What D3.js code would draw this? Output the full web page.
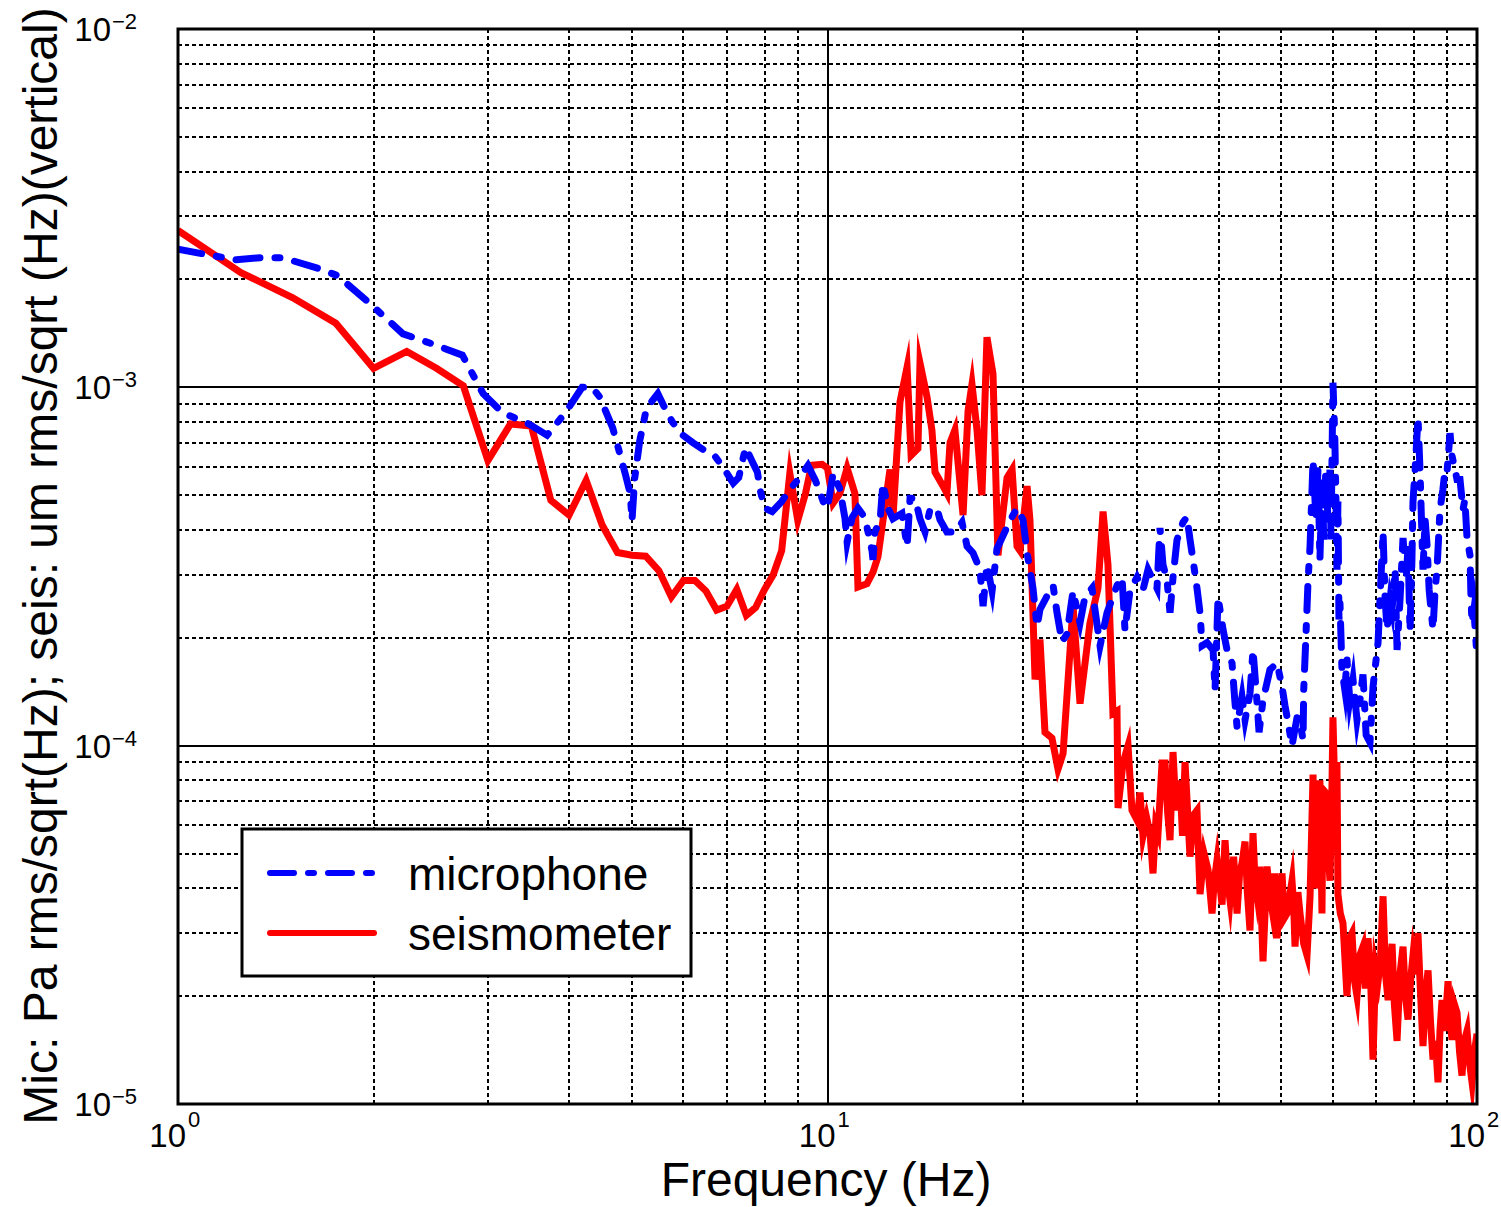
<!DOCTYPE html>
<html><head><meta charset="utf-8">
<script src="https://cdn.jsdelivr.net/npm/d3@7"></script>
<style>
body{margin:0;background:#fff}
text{font-family:"Liberation Sans",Arial,Helvetica,sans-serif;fill:#000}
</style>
</head><body>
<svg id="chart" width="1501" height="1207"></svg>
<script>
// ---------------- data ----------------
const micFreq = [1.0,1.09,1.23,1.34,1.45,1.64,1.76,1.97,2.22,2.44,2.74,2.95,3.16,3.47,3.7,3.95,4.19,4.34,4.46,4.67,4.76,4.88,4.97,5.0,5.05,5.14,5.24,5.33,5.48,5.61,5.77,5.99,6.21,6.52,6.7,6.9,7.16,7.3,7.48,7.66,7.8,7.87,8.0,8.22,8.5,8.76,9.06,9.33,9.58,9.85,10.0,10.2,10.45,10.64,10.72,10.91,11.14,11.42,11.71,11.75,11.83,12.05,12.17,12.39,12.61,13.02,13.26,13.4,13.64,13.88,14.13,14.38,14.74,14.9,15.27,15.71,16.11,16.4,16.75,17.17,17.36,17.6,17.92,18.24,18.63,19.1,19.58,20.0,20.29,20.72,21.02,21.24,21.62,22.01,22.25,22.56,22.96,23.37,23.88,24.48,24.91,25.54,26.28,26.94,27.91,28.41,28.71,29.23,29.96,30.6,31.15,32.16,32.5,32.85,33.32,33.68,34.04,34.52,35.26,35.77,36.15,36.54,37.06,37.46,37.73,38.4,39.23,39.51,39.93,40.64,41.22,41.96,42.4,42.71,43.47,43.94,44.72,45.2,45.85,46.18,46.83,48.0,49.22,50.1,50.64,51.18,51.9,52.84,53.4,53.97,54.1,54.5,54.95,55.33,55.92,56.5,56.91,57.3,57.72,58.1,58.5,58.96,59.38,59.6,60.01,60.4,60.65,60.87,61.08,61.3,61.52,61.96,62.6,63.07,63.7,64.43,65.35,66.05,66.75,67.5,68.43,69.17,70.41,70.9,71.67,72.2,72.7,73.5,74.0,74.8,75.32,76.12,76.93,77.8,78.31,78.86,79.4,79.7,80.3,81.12,81.7,82.3,82.58,83.2,83.76,84.4,84.66,85.56,86.2,86.78,87.71,88.6,89.3,89.92,90.88,91.5,92.5,93.16,94.15,95.16,95.8,96.52,97.55,97.9,98.25,98.9,100];
const micValues = [2.43e-3,2.36e-3,2.27e-3,2.3e-3,2.3e-3,2.15e-3,2.05e-3,1.72e-3,1.41e-3,1.33e-3,1.23e-3,9.6e-4,8.5e-4,7.9e-4,7.35e-4,8.5e-4,1.0e-3,1.0e-3,9.4e-4,7.7e-4,6.8e-4,5.75e-4,5.05e-4,4.25e-4,5.6e-4,7.1e-4,8.4e-4,9.0e-4,9.6e-4,8.8e-4,8.0e-4,7.35e-4,7.0e-4,6.6e-4,6.45e-4,6.0e-4,5.4e-4,5.6e-4,6.8e-4,6.2e-4,5.8e-4,5.2e-4,4.6e-4,4.5e-4,4.8e-4,5.2e-4,5.6e-4,6.05e-4,5.5e-4,4.8e-4,4.6e-4,5.75e-4,5.2e-4,4.3e-4,3.7e-4,4.33e-4,4.6e-4,4.33e-4,3.5e-4,3.3e-4,3.95e-4,4.25e-4,5.4e-4,4.6e-4,4.3e-4,4.45e-4,3.6e-4,4.9e-4,4.9e-4,4.3e-4,3.95e-4,4.55e-4,4.6e-4,4.27e-4,3.95e-4,3.95e-4,4.2e-4,3.6e-4,3.45e-4,3.1e-4,2.45e-4,3.2e-4,2.7e-4,3.55e-4,3.85e-4,4.25e-4,4.6e-4,4.27e-4,3.45e-4,2.75e-4,2.15e-4,2.4e-4,2.55e-4,2.72e-4,2.8e-4,2.35e-4,1.95e-4,2.05e-4,2.7e-4,2.2e-4,2.6e-4,2.75e-4,1.9e-4,2.35e-4,2.8e-4,2.95e-4,2.1e-4,2.72e-4,2.95e-4,2.72e-4,3.1e-4,2.75e-4,4.05e-4,3.2e-4,2.9e-4,2.35e-4,2.95e-4,3.75e-4,4.2e-4,4.35e-4,3.76e-4,3.3e-4,2.75e-4,2.35e-4,1.9e-4,1.94e-4,1.85e-4,1.43e-4,2.6e-4,2.11e-4,1.85e-4,1.7e-4,1.32e-4,1.13e-4,1.37e-4,1.18e-4,1.4e-4,1.85e-4,1.32e-4,1.09e-4,1.34e-4,1.63e-4,1.7e-4,1.46e-4,1.29e-4,1.16e-4,1.0e-4,1.2e-4,1.16e-4,1.04e-4,1.43e-4,1.98e-4,2.91e-4,3.6e-4,6.28e-4,4.27e-4,5.89e-4,3.3e-4,5.53e-4,3.76e-4,5.89e-4,4.27e-4,5.89e-4,3.76e-4,1.03e-3,7.3e-4,4.86e-4,3.1e-4,4.8e-4,2.25e-4,2.5e-4,1.63e-4,1.43e-4,1.74e-4,1.34e-4,1.53e-4,1.18e-4,1.34e-4,1.58e-4,1.07e-4,1.02e-4,1.46e-4,1.94e-4,2.56e-4,3.95e-4,2.56e-4,2.11e-4,2.56e-4,2.4e-4,3.1e-4,1.85e-4,2.56e-4,3.8e-4,2.91e-4,3.6e-4,2.08e-4,3.3e-4,4.8e-4,5.89e-4,8.25e-4,5.89e-4,3.76e-4,3.1e-4,4.27e-4,3.65e-4,2.72e-4,2.56e-4,2.11e-4,2.72e-4,3.1e-4,4.56e-4,5.18e-4,5.89e-4,5.8e-4,7.45e-4,6.45e-4,5.89e-4,5.53e-4,5.53e-4,4.56e-4,4.86e-4,3.8e-4,3.4e-4,2.56e-4,2.2e-4,2.4e-4,1.77e-4];

const seisFreq = [1.0,1.25,1.5,1.75,2.0,2.25,2.5,2.75,3.0,3.25,3.5,3.75,4.0,4.25,4.5,4.75,5.0,5.25,5.5,5.75,6.0,6.25,6.5,6.75,7.0,7.25,7.5,7.75,8.0,8.25,8.5,8.75,9.0,9.25,9.45,9.81,10.0,10.2,10.45,10.72,11.02,11.14,11.5,11.75,11.96,12.48,12.61,12.93,13.26,13.45,13.78,13.88,14.23,14.48,14.64,15.06,15.27,15.44,15.71,16.17,16.46,16.69,16.99,17.29,17.6,17.98,18.3,18.9,19.24,19.58,19.79,20.29,20.5,20.87,21.24,21.62,22.16,22.64,23.05,23.88,24.48,25.36,26.09,26.56,27.03,27.51,27.91,28.01,28.51,29.02,29.43,29.96,30.28,30.6,31.0,31.37,31.71,32.0,32.28,32.74,33.09,33.4,33.68,34.04,34.4,34.89,35.2,35.52,36.15,36.6,37.06,37.46,38.0,38.54,39.09,39.4,39.79,40.5,40.93,41.3,41.66,42.2,42.71,43.1,43.47,43.94,44.3,44.72,45.2,45.5,45.85,46.3,46.83,47.5,47.9,48.35,48.8,49.22,49.7,50.1,50.5,50.99,51.9,52.2,52.46,53.0,53.4,54.1,54.74,55.33,55.92,56.3,56.71,57.3,57.72,57.93,58.5,59.0,59.38,59.8,60.01,60.4,60.87,61.08,61.6,62.18,63.07,63.6,64.2,64.8,65.35,66.0,66.75,67.3,67.95,68.6,69.17,69.8,70.41,71.0,71.67,72.3,72.96,73.5,74.0,74.6,75.32,76.1,76.93,77.6,78.31,79.0,79.7,80.4,81.12,81.8,82.58,83.3,84.06,84.8,85.56,86.3,87.09,87.7,88.34,89.2,90.24,90.9,91.53,92.3,93.16,94.0,94.82,95.6,96.52,97.4,98.25,99.1,100];
const seisValues = [2.74e-3,2.09e-3,1.78e-3,1.51e-3,1.13e-3,1.26e-3,1.13e-3,1.01e-3,6.25e-4,7.9e-4,7.8e-4,4.84e-4,4.4e-4,5.5e-4,4.12e-4,3.46e-4,3.4e-4,3.38e-4,3.08e-4,2.6e-4,2.89e-4,2.89e-4,2.7e-4,2.39e-4,2.45e-4,2.73e-4,2.31e-4,2.43e-4,2.73e-4,3.0e-4,3.5e-4,5.75e-4,4.25e-4,5.06e-4,6.06e-4,6.1e-4,5.95e-4,4.75e-4,5.06e-4,5.95e-4,5.06e-4,2.77e-4,2.83e-4,3.05e-4,3.37e-4,5.9e-4,4.3e-4,9.1e-4,1.14e-3,6.46e-4,6.75e-4,1.17e-3,9.4e-4,7.6e-4,5.8e-4,5.3e-4,5.06e-4,7.0e-4,7.6e-4,4.4e-4,8.6e-4,1.02e-3,7.6e-4,5.0e-4,1.38e-3,1.09e-3,3.4e-4,5.6e-4,5.9e-4,3.6e-4,3.5e-4,5.3e-4,4.25e-4,1.53e-4,1.98e-4,1.09e-4,1.05e-4,8.6e-5,9.5e-5,2.45e-4,1.31e-4,2.2e-4,2.75e-4,4.5e-4,3.2e-4,1.23e-4,1.25e-4,6.7e-5,8.95e-5,1.0e-4,6.6e-5,6.2e-5,7.4e-5,5.6e-5,6.3e-5,5.7e-5,4.4e-5,6.0e-5,5.7e-5,8.95e-5,8.95e-5,6.5e-5,5.45e-5,9.6e-5,6.6e-5,8.0e-5,5.6e-5,9.0e-5,4.9e-5,6.4e-5,6.6e-5,3.85e-5,5.0e-5,4.5e-5,3.4e-5,4.2e-5,4.8e-5,3.6e-5,5.45e-5,4.2e-5,3.7e-5,4.9e-5,3.4e-5,4.4e-5,4.7e-5,5.4e-5,3.9e-5,3.05e-5,5.7e-5,4.3e-5,3.85e-5,4.6e-5,2.5e-5,4.6e-5,3.9e-5,3.5e-5,4.4e-5,2.9e-5,3.8e-5,4.4e-5,3.3e-5,3.4e-5,4.2e-5,3.6e-5,2.75e-5,3.9e-5,3.4e-5,2.8e-5,2.6e-5,3.8e-5,8.3e-5,4.0e-5,4.5e-5,8.0e-5,3.4e-5,7.55e-5,7.4e-5,5.0e-5,4.2e-5,7.7e-5,1.2e-4,7.5e-5,9.0e-5,3.85e-5,3.4e-5,3.2e-5,2.0e-5,2.9e-5,3.0e-5,2.2e-5,2.0e-5,2.6e-5,2.75e-5,2.1e-5,2.9e-5,2.2e-5,1.33e-5,2.4e-5,2.2e-5,2.5e-5,3.8e-5,2.3e-5,1.95e-5,2.4e-5,2.8e-5,1.9e-5,1.5e-5,2.3e-5,2.75e-5,2.0e-5,1.72e-5,2.2e-5,2.6e-5,2.3e-5,3.0e-5,2.1e-5,1.45e-5,2.0e-5,2.36e-5,1.7e-5,1.33e-5,1.5e-5,1.15e-5,1.6e-5,1.95e-5,1.6e-5,2.2e-5,1.7e-5,1.51e-5,1.9e-5,1.8e-5,1.4e-5,1.2e-5,1.5e-5,1.6e-5,1.3e-5,1.15e-5,1.4e-5,1.57e-5];

const xTickExponents = [0, 1, 2];
const yTickExponents = [-2, -3, -4, -5];
const seriesNames = ["microphone", "seismometer"];
const seriesColors = ["#0000ff", "#ff0000"];
const xLabel = "Frequency (Hz)";
const yLabel = "Mic: Pa rms/sqrt(Hz); seis: um rms/sqrt (Hz)(vertical)";

// ---------------- layout ----------------
const plot = {l: 178, r: 1477, t: 29, b: 1104};
const svg = d3.select("#chart");
const x = d3.scaleLog().domain([1, 100]).range([plot.l, plot.r]);
const y = d3.scaleLog().domain([1e-5, 1e-2]).range([plot.b, plot.t]);
const isMajor = v => Math.abs(Math.log10(v) - Math.round(Math.log10(v))) < 1e-6;
const rx = v => Math.round(x(v)), ry = v => Math.round(y(v));

// grid
const grid = svg.append("g").attr("shape-rendering", "crispEdges");
const xt = x.ticks(), yt = y.ticks();
grid.selectAll("line.xminor").data(xt.filter(v => !isMajor(v))).join("line")
  .attr("x1", rx).attr("x2", rx).attr("y1", plot.t).attr("y2", plot.b)
  .attr("stroke", "#000").attr("stroke-width", 2).attr("stroke-dasharray", "4,3");
grid.selectAll("line.yminor").data(yt.filter(v => !isMajor(v))).join("line")
  .attr("y1", ry).attr("y2", ry).attr("x1", plot.l).attr("x2", plot.r)
  .attr("stroke", "#000").attr("stroke-width", 2).attr("stroke-dasharray", "4,3");
grid.selectAll("line.xmajor").data(xt.filter(isMajor)).join("line")
  .attr("x1", rx).attr("x2", rx).attr("y1", plot.t).attr("y2", plot.b)
  .attr("stroke", "#000").attr("stroke-width", 2);
grid.selectAll("line.ymajor").data(yt.filter(isMajor)).join("line")
  .attr("y1", ry).attr("y2", ry).attr("x1", plot.l).attr("x2", plot.r)
  .attr("stroke", "#000").attr("stroke-width", 2);

// clip
svg.append("clipPath").attr("id", "clip").append("rect")
  .attr("x", plot.l).attr("y", plot.t).attr("width", plot.r - plot.l).attr("height", plot.b - plot.t);

const line = d3.line().x(d => x(d[0])).y(d => y(d[1]));
const micData = micFreq.map((f, i) => [f, micValues[i]]);
const seisData = seisFreq.map((f, i) => [f, seisValues[i]]);

const lines = svg.append("g").attr("clip-path", "url(#clip)");
lines.append("path").datum(seisData).attr("d", line)
  .attr("fill", "none").attr("stroke", seriesColors[1]).attr("stroke-width", 7)
  .attr("stroke-linejoin", "miter").attr("stroke-miterlimit", 10);
lines.append("path").datum(micData).attr("d", line)
  .attr("fill", "none").attr("stroke", seriesColors[0]).attr("stroke-width", 7)
  .attr("stroke-linejoin", "miter").attr("stroke-miterlimit", 10)
  .attr("stroke-linecap", "round").attr("stroke-dasharray", "24,15,5,15");

// frame
svg.append("rect").attr("x", plot.l).attr("y", plot.t)
  .attr("width", plot.r - plot.l).attr("height", plot.b - plot.t)
  .attr("fill", "none").attr("stroke", "#000").attr("stroke-width", 3);

// x tick labels
xTickExponents.forEach(e => {
  svg.append("text").attr("x", x(Math.pow(10, e)) + 8).attr("y", 1147)
    .attr("font-size", 33).attr("text-anchor", "end").text("10");
  svg.append("text").attr("x", x(Math.pow(10, e)) + 10).attr("y", 1127)
    .attr("font-size", 22).text(String(e));
});
// y tick labels
yTickExponents.forEach(e => {
  const yy = y(Math.pow(10, e));
  svg.append("text").attr("x", 111).attr("y", yy + 12)
    .attr("font-size", 33).attr("text-anchor", "end").text("10");
  svg.append("text").attr("x", 112).attr("y", yy)
    .attr("font-size", 22).text("\u2212" + String(-e));
});

// axis labels
svg.append("text").attr("x", 826).attr("y", 1196).attr("text-anchor", "middle")
  .attr("font-size", 48).text(xLabel);
svg.append("text").attr("transform", "translate(57,566) rotate(-90)")
  .attr("text-anchor", "middle").attr("font-size", 48).text(yLabel);

// legend
const lg = svg.append("g");
lg.append("rect").attr("x", 242).attr("y", 829).attr("width", 449).attr("height", 147)
  .attr("fill", "#fff").attr("stroke", "#000").attr("stroke-width", 3);
const legY = [873, 933];
seriesNames.forEach((name, i) => {
  const ln = lg.append("line").attr("x1", 270).attr("x2", 374).attr("y1", legY[i]).attr("y2", legY[i])
    .attr("stroke", seriesColors[i]).attr("stroke-width", 6).attr("stroke-linecap", "round");
  if (i === 0) ln.attr("stroke-dasharray", "24,14,6,14");
  lg.append("text").attr("x", 408).attr("y", legY[i] + 17).attr("font-size", 46).text(name);
});
</script>
</body></html>
